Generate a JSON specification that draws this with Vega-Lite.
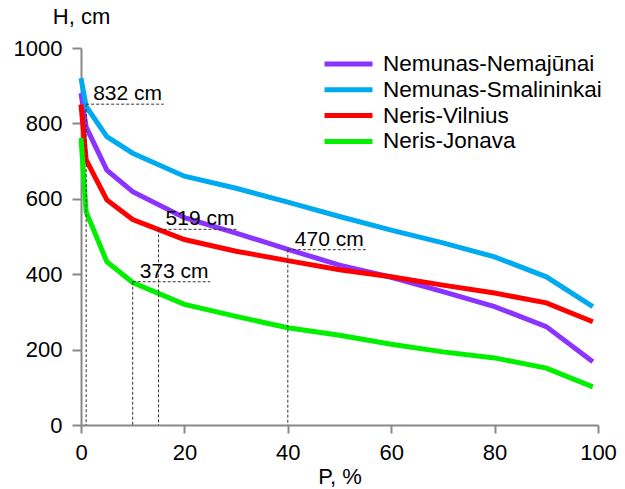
{
  "$schema": "https://vega.github.io/schema/vega-lite/v6.json",
  "width": 517,
  "height": 377,
  "autosize": "none",
  "padding": {"left": 81, "top": 48, "right": 27, "bottom": 64},
  "config": {
    "view": {"stroke": null},
    "font": "Liberation Sans",
    "axis": {
      "grid": false,
      "domainColor": "#888888",
      "tickColor": "#888888",
      "domainWidth": 2,
      "tickWidth": 2,
      "labelFont": "Liberation Sans",
      "labelFontSize": 22,
      "labelColor": "#000000",
      "labelFlush": false,
      "labelOverlap": false,
      "titleFont": "Liberation Sans",
      "titleFontSize": 22,
      "titleFontWeight": "normal",
      "titleColor": "#000000"
    },
    "legend": {
      "labelFont": "Liberation Sans",
      "labelFontSize": 22.5,
      "labelColor": "#000000",
      "labelLimit": 400,
      "padding": 0
    }
  },
  "datasets": {
    "curves": [
      {"series": "Nemunas-Nemajūnai", "P": 0, "H": 880},
      {"series": "Nemunas-Nemajūnai", "P": 1, "H": 790},
      {"series": "Nemunas-Nemajūnai", "P": 5, "H": 676},
      {"series": "Nemunas-Nemajūnai", "P": 10, "H": 619},
      {"series": "Nemunas-Nemajūnai", "P": 20, "H": 550},
      {"series": "Nemunas-Nemajūnai", "P": 30, "H": 509},
      {"series": "Nemunas-Nemajūnai", "P": 40, "H": 466},
      {"series": "Nemunas-Nemajūnai", "P": 50, "H": 424},
      {"series": "Nemunas-Nemajūnai", "P": 60, "H": 392},
      {"series": "Nemunas-Nemajūnai", "P": 70, "H": 354},
      {"series": "Nemunas-Nemajūnai", "P": 80, "H": 314},
      {"series": "Nemunas-Nemajūnai", "P": 90, "H": 261},
      {"series": "Nemunas-Nemajūnai", "P": 99, "H": 168},
      {"series": "Nemunas-Smalininkai", "P": 0, "H": 920},
      {"series": "Nemunas-Smalininkai", "P": 1, "H": 845},
      {"series": "Nemunas-Smalininkai", "P": 5, "H": 765},
      {"series": "Nemunas-Smalininkai", "P": 10, "H": 721},
      {"series": "Nemunas-Smalininkai", "P": 20, "H": 660},
      {"series": "Nemunas-Smalininkai", "P": 30, "H": 628},
      {"series": "Nemunas-Smalininkai", "P": 40, "H": 591},
      {"series": "Nemunas-Smalininkai", "P": 50, "H": 553},
      {"series": "Nemunas-Smalininkai", "P": 60, "H": 517},
      {"series": "Nemunas-Smalininkai", "P": 70, "H": 483},
      {"series": "Nemunas-Smalininkai", "P": 80, "H": 446},
      {"series": "Nemunas-Smalininkai", "P": 90, "H": 393},
      {"series": "Nemunas-Smalininkai", "P": 99, "H": 314},
      {"series": "Neris-Vilnius", "P": 0, "H": 850},
      {"series": "Neris-Vilnius", "P": 1, "H": 703},
      {"series": "Neris-Vilnius", "P": 5, "H": 597},
      {"series": "Neris-Vilnius", "P": 10, "H": 545},
      {"series": "Neris-Vilnius", "P": 20, "H": 492},
      {"series": "Neris-Vilnius", "P": 30, "H": 461},
      {"series": "Neris-Vilnius", "P": 40, "H": 436},
      {"series": "Neris-Vilnius", "P": 50, "H": 412},
      {"series": "Neris-Vilnius", "P": 60, "H": 393},
      {"series": "Neris-Vilnius", "P": 70, "H": 371},
      {"series": "Neris-Vilnius", "P": 80, "H": 350},
      {"series": "Neris-Vilnius", "P": 90, "H": 324},
      {"series": "Neris-Vilnius", "P": 99, "H": 274},
      {"series": "Neris-Jonava", "P": 0, "H": 761},
      {"series": "Neris-Jonava", "P": 1, "H": 565},
      {"series": "Neris-Jonava", "P": 5, "H": 433},
      {"series": "Neris-Jonava", "P": 10, "H": 378},
      {"series": "Neris-Jonava", "P": 20, "H": 320},
      {"series": "Neris-Jonava", "P": 30, "H": 288},
      {"series": "Neris-Jonava", "P": 40, "H": 258},
      {"series": "Neris-Jonava", "P": 50, "H": 238},
      {"series": "Neris-Jonava", "P": 60, "H": 214},
      {"series": "Neris-Jonava", "P": 70, "H": 194},
      {"series": "Neris-Jonava", "P": 80, "H": 178},
      {"series": "Neris-Jonava", "P": 90, "H": 151},
      {"series": "Neris-Jonava", "P": 99, "H": 101}
    ],
    "ann": [
      {"label": "832 cm", "x": 1, "xEnd": 16, "value": 851},
      {"label": "519 cm", "x": 15, "xEnd": 30.2, "value": 519},
      {"label": "373 cm", "x": 10, "xEnd": 25, "value": 380},
      {"label": "470 cm", "x": 40, "xEnd": 55.3, "value": 465}
    ]
  },
  "layer": [
    {
      "data": {"name": "curves"},
      "mark": {"type": "line", "strokeWidth": 5, "strokeCap": "butt"},
      "encoding": {
        "x": {
          "field": "P",
          "type": "quantitative",
          "title": "P, %",
          "scale": {"domain": [0, 100], "nice": false, "zero": true},
          "axis": {
            "values": [0, 20, 40, 60, 80, 100],
            "format": "d",
            "tickSize": 8,
            "labelPadding": 9,
            "titleBaseline": "alphabetic",
            "titleY": 58
          }
        },
        "y": {
          "field": "H",
          "type": "quantitative",
          "title": "H, cm",
          "scale": {"domain": [0, 1000], "nice": false},
          "axis": {
            "values": [0, 200, 400, 600, 800, 1000],
            "format": "d",
            "tickSize": 9,
            "labelPadding": 10,
            "titleAngle": 0,
            "titleAlign": "center",
            "titleBaseline": "alphabetic",
            "titleX": 0,
            "titleY": -25
          }
        },
        "color": {
          "field": "series",
          "type": "nominal",
          "sort": ["Nemunas-Nemajūnai", "Nemunas-Smalininkai", "Neris-Vilnius", "Neris-Jonava"],
          "scale": {
            "domain": ["Nemunas-Nemajūnai", "Nemunas-Smalininkai", "Neris-Vilnius", "Neris-Jonava"],
            "range": ["#8B33FF", "#00AAF0", "#FF0000", "#00F000"]
          },
          "legend": {
            "title": null,
            "orient": "none",
            "legendX": 241,
            "legendY": 4,
            "symbolType": "stroke",
            "symbolSize": 2304,
            "symbolStrokeWidth": 5,
            "labelOffset": 8,
            "clipHeight": 24,
            "rowPadding": 1.8
          }
        }
      }
    },
    {
      "data": {"name": "ann"},
      "mark": {"type": "rule", "strokeDash": [3, 2], "strokeWidth": 1, "color": "#333333"},
      "encoding": {
        "x": {"field": "x", "type": "quantitative", "title": "P, %"},
        "y": {"field": "value", "type": "quantitative", "title": "H, cm"},
        "y2": {"datum": 0}
      }
    },
    {
      "data": {"name": "ann"},
      "mark": {"type": "rule", "strokeDash": [3, 2], "strokeWidth": 1, "color": "#333333"},
      "encoding": {
        "x": {"field": "x", "type": "quantitative", "title": "P, %"},
        "x2": {"field": "xEnd"},
        "y": {"field": "value", "type": "quantitative", "title": "H, cm"}
      }
    },
    {
      "data": {"name": "ann"},
      "mark": {"type": "text", "align": "left", "baseline": "alphabetic", "dx": 7, "dy": -4, "fontSize": 21, "font": "Liberation Sans", "color": "#000000"},
      "encoding": {
        "x": {"field": "x", "type": "quantitative", "title": "P, %"},
        "y": {"field": "value", "type": "quantitative", "title": "H, cm"},
        "text": {"field": "label"}
      }
    }
  ]
}
